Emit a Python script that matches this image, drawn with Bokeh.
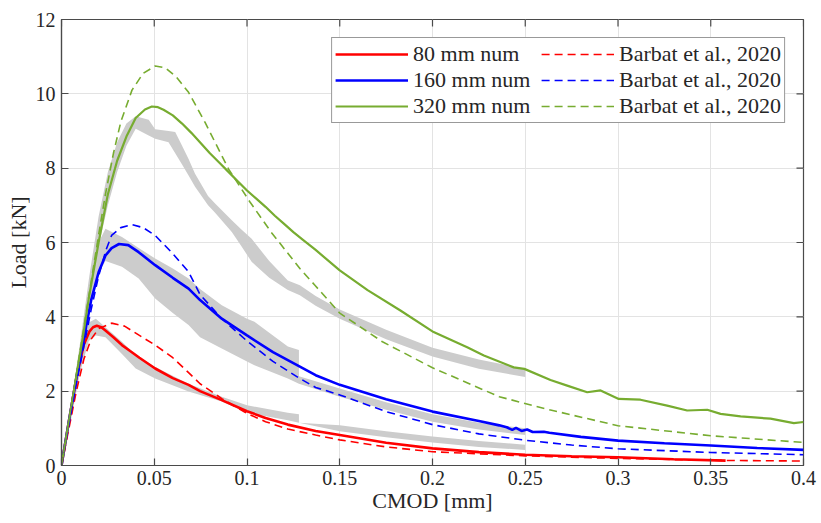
import math
from bokeh.plotting import figure
from bokeh.models import Range1d, Legend, LegendItem, FixedTicker
from bokeh.embed import file_html
from bokeh.resources import INLINE

# ---------------- data ----------------
x_ticks = [0, 0.05, 0.1, 0.15, 0.2, 0.25, 0.3, 0.35, 0.4]
x_tick_labels = ["0", "0.05", "0.1", "0.15", "0.2", "0.25", "0.3", "0.35", "0.4"]
y_ticks = [0, 2, 4, 6, 8, 10, 12]
y_tick_labels = ["0", "2", "4", "6", "8", "10", "12"]
x_lim = [0, 0.4]
y_lim = [0, 12]

# numerical curves
num80_x = [0, 0.004, 0.008, 0.012, 0.015, 0.017, 0.019, 0.0215, 0.0237, 0.028, 0.0326, 0.037, 0.042,
           0.0505, 0.06, 0.0685, 0.0747, 0.0864, 0.1, 0.11, 0.122, 0.137, 0.15, 0.175, 0.2, 0.225,
           0.25, 0.275, 0.3, 0.33, 0.358]
num80_y = [0, 1.2, 2.35, 3.25, 3.6, 3.72, 3.76, 3.72, 3.63, 3.45, 3.24, 3.08, 2.9,
           2.61, 2.35, 2.17, 2.0, 1.76, 1.46, 1.28, 1.1, 0.93, 0.82, 0.61, 0.46, 0.36,
           0.29, 0.25, 0.22, 0.17, 0.13]

num160_x = [0, 0.004, 0.008, 0.012, 0.016, 0.02, 0.0237, 0.027, 0.031, 0.036, 0.0416, 0.0505, 0.06,
            0.0685, 0.0747, 0.0864, 0.1, 0.114, 0.1285, 0.137, 0.15, 0.175, 0.2, 0.225, 0.236, 0.24,
            0.243, 0.245, 0.248, 0.251, 0.254, 0.26, 0.263, 0.28, 0.3, 0.325, 0.35, 0.375, 0.4]
num160_y = [0, 1.2, 2.35, 3.4, 4.45, 5.2, 5.65, 5.85, 5.96, 5.93, 5.74, 5.39, 5.05,
            4.76, 4.45, 3.95, 3.5, 3.05, 2.66, 2.43, 2.17, 1.78, 1.45, 1.2, 1.08, 1.03,
            0.96, 1.01, 0.93, 0.97, 0.9, 0.91, 0.88, 0.77, 0.67, 0.6, 0.54, 0.47, 0.42]

num320_x = [0, 0.004, 0.008, 0.012, 0.0147, 0.02, 0.025, 0.03, 0.035, 0.04, 0.045, 0.0487,
            0.052, 0.055, 0.06, 0.065, 0.07, 0.075, 0.08, 0.085, 0.09, 0.095, 0.1, 0.105, 0.11,
            0.115, 0.12, 0.125, 0.13, 0.137, 0.15, 0.165, 0.1827, 0.2006, 0.2187, 0.2277, 0.2438,
            0.2495, 0.2636, 0.2726, 0.2834, 0.2906, 0.3004, 0.3121, 0.3265, 0.3373, 0.3481, 0.3553,
            0.3661, 0.3822, 0.3948, 0.4]
num320_y = [0, 1.2, 2.4, 3.6, 4.49, 6.0, 7.3, 8.2, 8.85, 9.35, 9.58, 9.66,
            9.64, 9.57, 9.42, 9.2, 8.95, 8.68, 8.4, 8.15, 7.9, 7.65, 7.4, 7.18, 6.96,
            6.72, 6.5, 6.28, 6.08, 5.8, 5.25, 4.72, 4.17, 3.59, 3.18, 2.96, 2.64,
            2.6, 2.3, 2.15, 1.97, 2.02, 1.79, 1.77, 1.61, 1.48, 1.5, 1.39,
            1.32, 1.26, 1.14, 1.17]

# Barbat et al., 2020 curves
bar80_x = [0, 0.004, 0.008, 0.012, 0.016, 0.02, 0.027, 0.034, 0.042, 0.0505, 0.06, 0.0685, 0.0747,
           0.0864, 0.1, 0.11, 0.122, 0.137, 0.15, 0.175, 0.2, 0.25, 0.3, 0.35, 0.4]
bar80_y = [0, 1.0, 2.0, 2.85, 3.4, 3.68, 3.83, 3.75, 3.5, 3.24, 2.9, 2.5, 2.2,
           1.8, 1.4, 1.18, 0.98, 0.82, 0.69, 0.5, 0.37, 0.26, 0.19, 0.14, 0.12]

bar160_x = [0, 0.004, 0.008, 0.012, 0.016, 0.02, 0.024, 0.027, 0.032, 0.038, 0.044, 0.0505, 0.06,
            0.0685, 0.0747, 0.0864, 0.1, 0.114, 0.1285, 0.137, 0.15, 0.175, 0.2, 0.225, 0.25, 0.275,
            0.3, 0.35, 0.4]
bar160_y = [0, 1.1, 2.2, 3.2, 4.2, 5.1, 5.8, 6.19, 6.4, 6.48, 6.4, 6.19, 5.7,
            5.21, 4.6, 3.95, 3.35, 2.8, 2.34, 2.1, 1.9, 1.45, 1.1, 0.85, 0.68, 0.55,
            0.45, 0.35, 0.29]

bar320_x = [0, 0.004, 0.008, 0.012, 0.016, 0.02, 0.0237, 0.028, 0.032, 0.038, 0.044, 0.0505, 0.056,
            0.062, 0.0685, 0.0774, 0.09, 0.1016, 0.113, 0.1285, 0.1366, 0.15, 0.173, 0.2, 0.236,
            0.263, 0.3, 0.35, 0.4]
bar320_y = [0, 1.2, 2.45, 3.7, 4.95, 6.2, 7.3, 8.4, 9.25, 10.1, 10.55, 10.75, 10.7,
            10.45, 10.04, 9.23, 7.98, 7.09, 6.28, 5.3, 4.85, 4.1, 3.33, 2.63, 1.85,
            1.5, 1.07, 0.8, 0.62]

# experimental envelopes (grey bands)
exp80_x = [0, 0.005, 0.010, 0.0147, 0.0185, 0.0237, 0.0326, 0.040, 0.0505, 0.0685, 0.0864, 0.1,
           0.122, 0.128, 0.128, 0.15, 0.175, 0.2, 0.225, 0.25]
exp80_hi = [0, 1.6, 3.1, 3.85, 3.95, 3.72, 3.33, 2.97, 2.65, 2.2, 1.85, 1.62,
            1.42, 1.38, 1.15, 1.08, 0.92, 0.78, 0.66, 0.56]
exp80_lo = [0, 1.2, 2.5, 3.35, 3.5, 3.45, 3.0, 2.61, 2.34, 1.99, 1.72, 1.42,
            1.22, 1.15, 1.15, 0.92, 0.76, 0.62, 0.5, 0.42]

exp160_x = [0, 0.005, 0.01, 0.015, 0.02, 0.0237, 0.0326, 0.0416, 0.0505, 0.06, 0.0685, 0.0747,
            0.0864, 0.1, 0.104, 0.122, 0.128, 0.128, 0.15, 0.175, 0.2, 0.225, 0.25]
exp160_hi = [0, 1.6, 3.2, 4.8, 6.0, 6.37, 6.15, 5.85, 5.57, 5.3, 5.03, 4.75,
             4.31, 3.95, 3.87, 3.2, 3.11, 2.4, 2.07, 1.7, 1.38, 1.15, 1.0]
exp160_lo = [0, 1.3, 2.8, 4.2, 5.2, 5.5, 5.35, 5.03, 4.49, 4.1, 3.78, 3.45,
             3.15, 2.8, 2.7, 2.34, 2.2, 2.2, 1.85, 1.5, 1.18, 0.97, 0.82]

exp320_x = [0, 0.005, 0.01, 0.015, 0.02, 0.025, 0.03, 0.035, 0.040, 0.047, 0.0505, 0.0577, 0.0613,
            0.065, 0.0685, 0.072, 0.079, 0.0828, 0.0918, 0.097, 0.1025, 0.112, 0.122, 0.1285,
            0.137, 0.15, 0.175, 0.2, 0.225, 0.25]
exp320_hi = [0, 1.6, 3.3, 5.1, 6.7, 7.9, 8.7, 9.2, 9.4, 9.3, 9.05, 9.0, 8.97,
             8.6, 8.25, 7.85, 7.25, 7.05, 6.6, 6.35, 6.1, 5.5, 4.98, 4.85,
             4.56, 4.2, 3.65, 3.17, 2.85, 2.6]
exp320_lo = [0, 1.3, 2.9, 4.5, 5.9, 7.0, 7.9, 8.6, 9.06, 8.88, 8.79, 8.7, 8.4,
             8.1, 7.8, 7.5, 7.0, 6.8, 6.28, 5.9, 5.48, 5.05, 4.72, 4.58,
             4.3, 3.95, 3.4, 2.93, 2.6, 2.38]

series_labels = ["80 mm num", "160 mm num", "320 mm num",
                 "Barbat et al., 2020", "Barbat et al., 2020", "Barbat et al., 2020"]

# ---------------- styling ----------------
RED = "#ff0000"
BLUE = "#0000ff"
GREEN = "#77ac30"
GREY = "#cccccc"
AXC = "#4a4a4a"
FONT = "Liberation Serif"

p = figure(x_range=Range1d(*x_lim), y_range=Range1d(*y_lim),
           width=821, height=523,
           min_border_left=61, min_border_right=18, min_border_top=19, min_border_bottom=58,
           output_backend="svg", toolbar_location=None,
           x_axis_label="CMOD [mm]", y_axis_label="Load [kN]",
           background_fill_color="white", border_fill_color="white")
p.outline_line_color = AXC
p.outline_line_width = 1.2

for ax, ticks, labels in ((p.xaxis[0], x_ticks, x_tick_labels), (p.yaxis[0], y_ticks, y_tick_labels)):
    ax.ticker = FixedTicker(ticks=ticks)
    ax.major_label_overrides = {t: l for t, l in zip(ticks, labels)}
    ax.major_label_text_font = FONT
    ax.major_label_text_font_size = "20px"
    ax.major_label_text_color = "#262626"
    ax.axis_label_text_font = FONT
    ax.axis_label_text_font_size = "22px"
    ax.axis_label_text_font_style = "normal"
    ax.axis_label_text_color = "#262626"
    ax.axis_line_color = AXC
    ax.axis_line_width = 1.2
    ax.major_tick_line_color = AXC
    ax.major_tick_line_width = 1.2
    ax.major_tick_in = 7
    ax.major_tick_out = 0
    ax.minor_tick_line_color = None
p.xaxis[0].major_label_standoff = 5
p.xaxis[0].axis_label_standoff = 0
p.yaxis[0].major_label_standoff = 6
p.yaxis[0].axis_label_standoff = 2

p.xgrid.ticker = FixedTicker(ticks=x_ticks)
p.ygrid.ticker = FixedTicker(ticks=y_ticks)
p.xgrid.grid_line_color = "#e3e3e3"
p.ygrid.grid_line_color = "#e3e3e3"
p.xgrid.grid_line_width = 1
p.ygrid.grid_line_width = 1

# grey experimental bands
for bx, bh, bl in ((exp80_x, exp80_hi, exp80_lo), (exp160_x, exp160_hi, exp160_lo),
                   (exp320_x, exp320_hi, exp320_lo)):
    p.varea(x=bx, y1=bl, y2=bh, fill_color=GREY, fill_alpha=1.0)

r_n80 = p.line(num80_x, num80_y, line_color=RED, line_width=2.6)
r_n160 = p.line(num160_x, num160_y, line_color=BLUE, line_width=2.6)
r_n320 = p.line(num320_x, num320_y, line_color=GREEN, line_width=2.2)
r_b80 = p.line(bar80_x, bar80_y, line_color=RED, line_width=1.6, line_dash="8 5")
r_b160 = p.line(bar160_x, bar160_y, line_color=BLUE, line_width=1.6, line_dash="8 5")
r_b320 = p.line(bar320_x, bar320_y, line_color=GREEN, line_width=1.6, line_dash="8 5")

# inward ticks on the top and right edges of the box (no labels)
p.ray(x=x_ticks, y=[y_lim[1]] * len(x_ticks), length=7, length_units="screen",
      angle=-math.pi / 2, line_color=AXC, line_width=1.2)
p.ray(x=[x_lim[1]] * len(y_ticks), y=y_ticks, length=7, length_units="screen",
      angle=math.pi, line_color=AXC, line_width=1.2)

renderers = [r_n80, r_n160, r_n320, r_b80, r_b160, r_b320]
items = [LegendItem(label=lab, renderers=[r]) for lab, r in zip(series_labels, renderers)]
legend = Legend(items=items, location="top_right", ncols=2, orientation="vertical",
                margin=18, padding=3, spacing=0,
                glyph_width=73, glyph_height=22, label_height=22, label_standoff=5,
                label_width=128,
                label_text_font=FONT, label_text_font_size="22px", label_text_color="#262626",
                border_line_color="#333333", border_line_width=1.2,
                background_fill_color="white", background_fill_alpha=1.0)
p.add_layout(legend)

open("out.html", "w").write(file_html(p, INLINE))
